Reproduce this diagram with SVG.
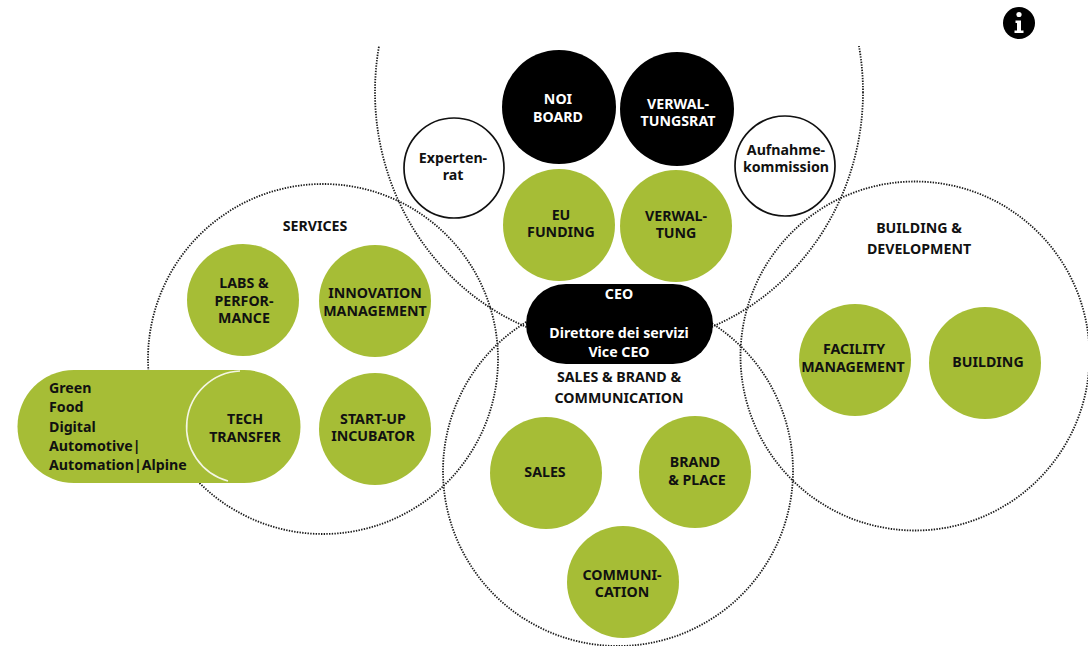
<svg xmlns="http://www.w3.org/2000/svg" width="1088" height="646" viewBox="0 0 1088 646">
<style>
text{font-family:"Noto Sans","Liberation Sans",sans-serif;font-weight:700;font-size:14.2px;text-anchor:middle;fill:#111}
.w{fill:#fff}
.g{fill:#a6bd36}
.k{fill:#000}
.o{fill:#fff;stroke:#111;stroke-width:1.7}
.d{fill:none;stroke:#1a1a1a;stroke-width:1.8;stroke-dasharray:1.4 1.3}
.l{text-anchor:start}
</style>
<defs><clipPath id="topclip"><rect x="0" y="46" width="1088" height="283"/></clipPath></defs>
<rect width="1088" height="646" fill="#fff"/>
<g id="connectors">
<ellipse class="d" cx="619" cy="92" rx="244" ry="254" clip-path="url(#topclip)"/>
<circle class="d" cx="323" cy="359" r="175"/>
<circle class="d" cx="915" cy="356" r="174.5"/>
<circle class="d" cx="618" cy="471" r="175"/>
</g>
<g id="info"><circle class="k" cx="1019" cy="23" r="16"/><circle class="w" cx="1019" cy="14.500" r="2.600"/><path class="w" d="M1015.500 20.500h5.500v10h2.500v2.500h-9v-2.500h2.500v-7.500h-1.500z"/></g>
<g id="noi-board"><circle class="k" cx="559" cy="107" r="57"/><text class="w" x="558" y="104">NOI</text><text class="w" x="558" y="122">BOARD</text></g>
<g id="verwaltungsrat"><circle class="k" cx="677" cy="109" r="57"/><text class="w" x="678" y="109">VERWAL-</text><text class="w" x="678" y="126">TUNGSRAT</text></g>
<g id="expertenrat"><circle class="o" cx="454" cy="168" r="50"/><text x="453" y="163">Experten-</text><text x="453" y="180">rat</text></g>
<g id="aufnahmekommission"><circle class="o" cx="785" cy="166" r="50"/><text x="786" y="155">Aufnahme-</text><text x="786" y="172">kommission</text></g>
<g id="eu-funding"><circle class="g" cx="559" cy="225" r="56"/><text x="561" y="220">EU</text><text x="561" y="237">FUNDING</text></g>
<g id="verwaltung"><circle class="g" cx="676" cy="226" r="56"/><text x="676" y="221">VERWAL-</text><text x="676" y="238">TUNG</text></g>
<g id="ceo"><rect class="k" x="526" y="284" width="187" height="80" rx="40"/><text class="w" x="619" y="299">CEO</text><text class="w" x="619" y="338">Direttore dei servizi</text><text class="w" x="619" y="357">Vice CEO</text></g>
<g id="services"><text x="315" y="231">SERVICES</text></g>
<g id="labs"><circle class="g" cx="243" cy="300" r="56"/><text x="244" y="288">LABS &amp;</text><text x="244" y="306">PERFOR-</text><text x="244" y="323">MANCE</text></g>
<g id="innovation"><circle class="g" cx="375" cy="301" r="56"/><text x="375" y="298">INNOVATION</text><text x="375" y="316">MANAGEMENT</text></g>
<g id="tech-transfer"><path class="g" d="M74 370H244A56.500 56.500 0 0 1 244 483H74A56.500 56.500 0 0 1 74 370Z"/><path d="M240 371A56 56 0 0 0 228 481" fill="none" stroke="#f4f6e4" stroke-width="1.600"/><text x="245" y="424">TECH</text><text x="245" y="442">TRANSFER</text><text class="l" x="49" y="393">Green</text><text class="l" x="49" y="412">Food</text><text class="l" x="49" y="432">Digital</text><text class="l" x="49" y="451">Automotive|</text><text class="l" x="49" y="470">Automation|Alpine</text></g>
<g id="start-up"><circle class="g" cx="375" cy="429" r="56"/><text x="373" y="424">START-UP</text><text x="373" y="441">INCUBATOR</text></g>
<g id="sales-brand"><text x="619" y="382">SALES &amp; BRAND &amp;</text><text x="619" y="403">COMMUNICATION</text></g>
<g id="sales"><circle class="g" cx="546" cy="473" r="56"/><text x="545" y="477">SALES</text></g>
<g id="brand"><circle class="g" cx="695" cy="472" r="56"/><text x="695" y="467">BRAND</text><text x="697" y="485">&amp; PLACE</text></g>
<g id="communication"><circle class="g" cx="623" cy="582" r="56"/><text x="622" y="580">COMMUNI-</text><text x="622" y="597">CATION</text></g>
<g id="building-development"><text x="919" y="233">BUILDING &amp;</text><text x="919" y="254">DEVELOPMENT</text></g>
<g id="facility"><circle class="g" cx="855" cy="360" r="56"/><text x="854" y="354">FACILITY</text><text x="853" y="372">MANAGEMENT</text></g>
<g id="building"><circle class="g" cx="985" cy="363" r="56"/><text x="988" y="367">BUILDING</text></g>
</svg>
